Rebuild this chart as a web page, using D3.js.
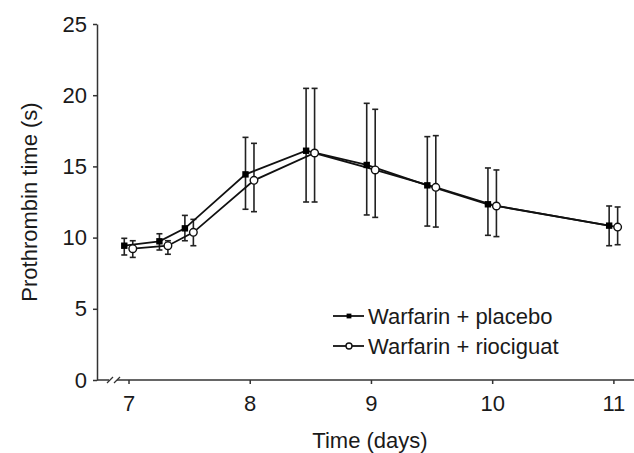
<!DOCTYPE html>
<html lang="en">
<head>
    <meta charset="UTF-8">
    <title>Prothrombin time</title>
    <script src="https://d3js.org/d3.v7.min.js"></script>
    <style>
        body {
            margin: 0;
            background: #ffffff;
            font-family: "Liberation Sans", Arial, sans-serif;
        }
        .axis text {
            font-family: "Liberation Sans", Arial, sans-serif;
            font-size: 22px;
            fill: #1a1a1a;
        }
        .axis line, .axis path {
            stroke: #333;
            stroke-width: 1.5px;
        }
    </style>
</head>
<body>
    <div id="chart"></div>

    <script>
        // Time points (days) and values
        const days = [7, 7.29, 7.5, 8, 8.5, 9, 9.5, 10, 11];
        const placeboMean = [9.43, 9.74, 10.65, 14.44, 16.10, 15.10, 13.67, 12.34, 10.84];
        const placeboLow  = [8.78, 9.13, 9.78, 11.99, 12.50, 11.59, 10.81, 10.16, 9.43];
        const placeboHigh = [9.95, 10.27, 11.56, 17.04, 20.48, 19.43, 17.09, 14.89, 12.22];
        const rioMean = [9.22, 9.43, 10.37, 14.02, 15.94, 14.75, 13.53, 12.22, 10.74];
        const rioLow  = [8.61, 8.83, 9.43, 11.82, 12.50, 11.42, 10.74, 10.07, 9.50];
        const rioHigh = [9.78, 9.78, 11.28, 16.62, 20.48, 19.01, 17.16, 14.75, 12.15];
        const xTicks = [7, 8, 9, 10, 11];
        const yTicks = [0, 5, 10, 15, 20, 25];
        const seriesNames = ["Warfarin + placebo", "Warfarin + riociguat"];

        const width = 634;
        const height = 453;

        const svg = d3.select("#chart")
            .append("svg")
            .attr("width", width)
            .attr("height", height);

        const x = d3.scaleLinear().domain([6.74, 11.17]).range([97, 634]);
        const y = d3.scaleLinear().domain([0, 25]).range([380, 24]);
        const dodge = 0.035; // small horizontal shift so the two series don't overlap

        const series = [
            { name: seriesNames[0], shift: -dodge, mean: placeboMean, lo: placeboLow, hi: placeboHigh, filled: true },
            { name: seriesNames[1], shift: dodge, mean: rioMean, lo: rioLow, hi: rioHigh, filled: false }
        ].map(s => ({
            ...s,
            points: days.map((d, i) => ({ t: d + s.shift, m: s.mean[i], lo: s.lo[i], hi: s.hi[i] }))
        }));

        // y axis
        svg.append("g")
            .attr("class", "axis")
            .attr("transform", `translate(${x.range()[0]},0)`)
            .call(d3.axisLeft(y).tickValues(yTicks).tickSize(4).tickSizeOuter(0).tickPadding(6));

        // x axis (domain line redrawn below with a break)
        const xAxis = svg.append("g")
            .attr("class", "axis")
            .attr("transform", `translate(0,${y(0)})`)
            .call(d3.axisBottom(x).tickValues(xTicks).tickFormat(d3.format("d")).tickSize(4).tickPadding(11));
        xAxis.select(".domain").remove();

        const gapL = 109, gapR = 117;
        svg.append("line")
            .attr("x1", x.range()[0]).attr("x2", gapL)
            .attr("y1", y(0)).attr("y2", y(0))
            .attr("stroke", "#333").attr("stroke-width", 1.5);
        svg.append("line")
            .attr("x1", gapR).attr("x2", x.range()[1])
            .attr("y1", y(0)).attr("y2", y(0))
            .attr("stroke", "#333").attr("stroke-width", 1.5);
        [gapL - 2, gapR - 3].forEach(bx => {
            svg.append("line")
                .attr("x1", bx).attr("y1", y(0) + 3)
                .attr("x2", bx + 6).attr("y2", y(0) - 3)
                .attr("stroke", "#333").attr("stroke-width", 1.3);
        });

        // axis titles
        svg.append("text")
            .attr("transform", `translate(37,${(y(0) + y(25)) / 2}) rotate(-90)`)
            .attr("text-anchor", "middle")
            .attr("font-size", 22)
            .attr("fill", "#1a1a1a")
            .text("Prothrombin time (s)");

        svg.append("text")
            .attr("x", 370)
            .attr("y", 448)
            .attr("text-anchor", "middle")
            .attr("font-size", 22)
            .attr("fill", "#1a1a1a")
            .text("Time (days)");

        // error bars
        const cap = 3;
        series.forEach(s => {
            const g = svg.append("g").attr("stroke", "#222").attr("stroke-width", 1.6);
            s.points.forEach(p => {
                g.append("line").attr("x1", x(p.t)).attr("x2", x(p.t)).attr("y1", y(p.lo)).attr("y2", y(p.hi));
                g.append("line").attr("x1", x(p.t) - cap).attr("x2", x(p.t) + cap).attr("y1", y(p.lo)).attr("y2", y(p.lo));
                g.append("line").attr("x1", x(p.t) - cap).attr("x2", x(p.t) + cap).attr("y1", y(p.hi)).attr("y2", y(p.hi));
            });
        });

        // lines
        const line = d3.line().x(p => x(p.t)).y(p => y(p.m));
        series.forEach(s => {
            svg.append("path")
                .datum(s.points)
                .attr("fill", "none")
                .attr("stroke", "#111")
                .attr("stroke-width", 1.8)
                .attr("d", line);
        });

        // markers
        function marker(g, cx, cy, filled, size) {
            if (filled) {
                g.append("rect")
                    .attr("x", cx - size).attr("y", cy - size)
                    .attr("width", size * 2).attr("height", size * 2)
                    .attr("fill", "#000");
            } else {
                g.append("circle")
                    .attr("cx", cx).attr("cy", cy).attr("r", size + 0.6)
                    .attr("fill", "#fff")
                    .attr("stroke", "#111")
                    .attr("stroke-width", 1.4);
            }
        }
        series.forEach(s => {
            const g = svg.append("g");
            s.points.forEach(p => marker(g, x(p.t), y(p.m), s.filled, 3.2));
        });

        // legend
        const legend = svg.append("g").attr("transform", "translate(333,316)");
        series.forEach((s, i) => {
            const row = legend.append("g").attr("transform", `translate(0,${i * 30})`);
            row.append("line")
                .attr("x1", 0).attr("x2", 31)
                .attr("y1", 0).attr("y2", 0)
                .attr("stroke", "#111").attr("stroke-width", 1.8);
            marker(row, 16, 0, s.filled, 2.4);
            row.append("text")
                .attr("x", 35)
                .attr("y", 8)
                .attr("font-size", 22)
                .attr("fill", "#1a1a1a")
                .text(s.name);
        });
    </script>
</body>
</html>
